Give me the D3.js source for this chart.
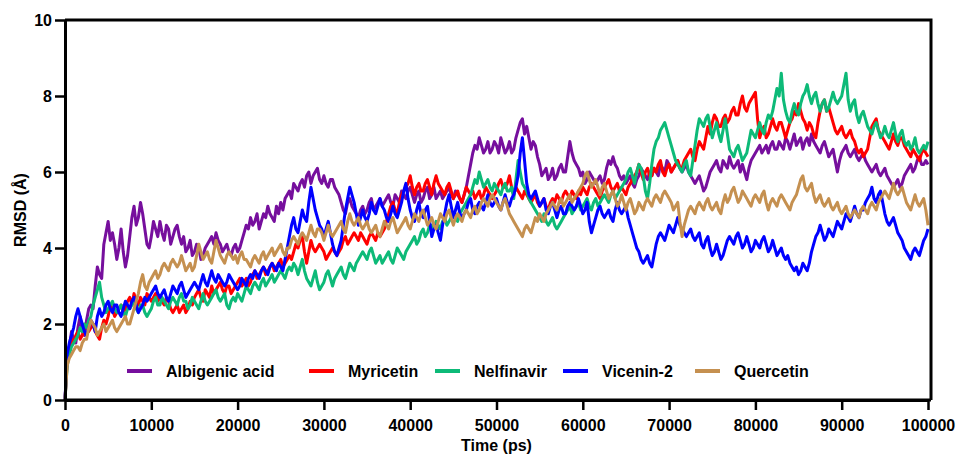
<!DOCTYPE html>
<html><head><meta charset="utf-8">
<script src="https://cdn.jsdelivr.net/npm/d3@7"></script>
<style>
body{margin:0;background:#fff}
text{font-family:Arial,"Liberation Sans",sans-serif;font-weight:bold;fill:#000}
</style>
</head><body>
<svg id="chart" width="956" height="457"></svg>
<script>
// ---------------- DATA ----------------
const timeStepPs = 250;            // sampling interval (ps)
const seriesNames = ["Albigenic acid", "Myricetin", "Nelfinavir", "Vicenin-2", "Quercetin"];
const seriesColors = ["#760F9D", "#FF0000", "#0DBA78", "#0000FF", "#C59050"];

const albigenicAcid = [
 0,1.1,1.4,1.8,1.6,1.5,1.9,2.2,1.8,1.7,2.1,2.4,2.5,2.4,3.0,3.5,3.3,3.2,4.1,4.4,
 4.7,4.2,4.4,4.1,3.7,4.0,4.5,3.9,3.5,3.8,4.3,4.8,5.1,4.6,4.8,5.2,4.9,4.5,4.1,4.0,
 4.3,4.7,4.5,4.3,4.7,4.4,4.2,4.6,4.5,4.1,4.3,4.5,4.6,4.3,4.1,4.3,3.9,4.0,4.2,3.8,
 3.9,4.1,4.0,3.7,3.8,4.0,4.1,4.2,4.3,4.1,4.4,4.2,4.1,3.9,4.0,4.1,3.9,3.8,4.0,4.1,
 3.9,4.0,4.2,4.4,4.6,4.5,4.8,4.6,4.7,4.9,4.5,4.7,4.9,4.8,5.1,4.9,4.8,4.7,5.1,4.9,
 5.2,5.0,5.3,5.4,5.5,5.3,5.7,5.6,5.5,5.7,5.8,5.6,5.9,6.0,5.7,5.9,6.0,6.1,5.8,5.7,
 5.9,5.7,5.6,5.8,5.8,5.6,5.5,5.4,5.2,5.0,4.9,5.2,5.3,5.1,5.0,4.9,4.8,5.0,5.1,4.9,
 5.0,5.2,5.3,5.0,5.1,5.2,5.3,5.1,5.2,5.3,5.4,5.2,5.1,5.4,5.3,5.2,5.5,5.4,5.3,5.5,
 5.6,5.4,5.2,5.4,5.5,5.2,5.3,5.5,5.6,5.3,5.4,5.6,5.3,5.4,5.5,5.3,5.4,5.5,5.6,5.4,
 5.3,5.5,5.4,5.3,5.2,5.4,5.6,5.9,6.2,6.5,6.7,6.6,6.9,6.7,6.5,6.6,6.8,6.5,6.6,6.8,
 6.7,6.5,6.9,6.7,6.5,6.6,6.8,6.5,6.6,6.9,7.1,7.3,7.4,7.0,7.2,6.9,6.6,6.8,6.7,6.4,
 6.2,5.9,6.0,6.1,5.8,5.9,6.1,5.8,5.9,6.1,6.2,6.0,6.0,6.4,6.8,6.5,6.3,6.2,6.1,5.9,
 6.0,5.7,5.8,6.0,5.9,5.8,5.7,5.8,5.9,5.7,5.8,6.1,6.3,6.2,6.4,6.2,6.1,5.9,5.8,5.9,
 5.7,5.8,5.9,5.7,5.6,5.8,5.9,6.1,6.0,5.9,5.8,6.0,5.9,6.1,6.0,5.9,6.2,6.1,6.0,6.3,
 6.2,6.0,6.1,6.2,6.3,6.1,6.0,6.1,6.2,6.0,5.9,5.8,5.7,5.8,5.9,5.7,5.5,5.6,5.8,6.0,
 6.1,6.2,6.3,6.1,6.0,6.3,6.2,6.1,6.4,6.2,6.1,6.2,6.3,6.0,6.2,6.0,5.8,6.1,6.3,6.4,
 6.5,6.6,6.7,6.5,6.6,6.7,6.5,6.7,6.8,6.6,6.6,6.8,6.7,6.6,6.9,6.8,6.6,6.8,7.0,6.7,
 6.8,6.9,6.6,6.8,6.9,6.7,7.0,6.8,6.7,6.6,6.5,6.7,6.8,6.6,6.4,6.5,6.6,6.3,6.0,6.3,
 6.5,6.6,6.7,6.5,6.4,6.5,6.6,6.4,6.3,6.4,6.5,6.3,6.2,6.1,6.0,6.1,6.2,6.0,5.9,6.0,
 6.1,5.9,5.8,5.7,5.6,5.7,5.8,5.6,5.7,5.9,6.0,6.1,6.2,6.0,6.1,6.3,6.4,6.2,6.2,6.3,
 6.2];

const myricetin = [
 0,1.0,1.3,1.6,1.5,1.7,1.8,1.6,1.7,1.9,2.0,1.8,1.9,2.0,1.8,1.7,1.6,1.9,2.1,2.0,
 2.2,2.5,2.4,2.2,2.3,2.4,2.5,2.3,2.4,2.6,2.7,2.5,2.8,2.6,2.5,2.7,2.6,2.5,2.8,2.7,
 2.6,2.7,2.8,2.6,2.7,2.6,2.5,2.7,2.6,2.4,2.3,2.4,2.5,2.3,2.4,2.5,2.3,2.4,2.6,2.5,
 2.7,2.8,2.9,2.7,2.6,2.9,2.8,2.7,3.0,2.8,2.9,3.0,3.1,2.9,2.8,3.0,3.0,2.8,2.9,3.0,
 3.1,3.2,3.0,3.1,3.2,3.0,3.1,3.3,3.4,3.2,3.3,3.4,3.5,3.3,3.4,3.5,3.6,3.4,3.5,3.6,
 3.7,3.5,3.6,3.7,3.8,3.7,3.9,4.1,4.0,4.2,4.3,3.9,3.6,3.9,4.2,4.0,3.9,4.0,4.1,4.0,
 3.9,3.7,3.8,3.9,4.0,3.9,3.8,3.9,4.0,4.2,4.3,4.1,4.2,4.3,4.4,4.3,4.2,4.4,4.3,4.2,
 4.1,4.3,4.4,4.3,4.2,4.4,4.3,4.4,4.5,4.7,4.9,5.1,5.2,5.0,4.9,5.2,5.4,5.5,5.6,5.7,
 5.9,5.6,5.4,5.6,5.7,5.5,5.5,5.7,5.8,5.6,5.4,5.7,5.9,5.7,5.6,5.5,5.4,5.6,5.7,5.5,
 5.3,5.4,5.5,5.3,5.2,5.4,5.6,5.5,5.4,5.5,5.3,5.4,5.5,5.3,5.4,5.6,5.5,5.4,5.3,5.4,
 5.5,5.7,5.8,5.6,5.6,5.7,5.9,5.6,5.4,5.6,5.5,5.4,5.3,5.5,5.4,5.3,5.2,5.3,5.4,5.2,
 5.1,5.2,5.3,5.1,5.0,5.2,5.3,5.2,5.4,5.3,5.2,5.4,5.5,5.4,5.3,5.5,5.4,5.3,5.5,5.4,
 5.6,5.5,5.4,5.6,5.7,5.6,5.5,5.4,5.3,5.5,5.6,5.7,5.8,5.6,5.5,5.6,5.7,5.5,5.6,5.5,
 5.4,5.6,5.7,5.8,5.9,6.0,6.2,6.0,5.8,6.0,6.1,5.9,5.9,6.1,6.0,6.2,6.3,6.0,5.9,6.1,
 6.2,6.0,6.1,6.2,6.3,6.1,6.1,6.3,6.4,6.5,6.6,6.4,6.3,6.6,6.8,6.7,6.6,6.9,7.2,7.0,
 7.3,7.5,7.4,7.2,7.2,7.4,7.5,7.3,7.4,7.6,7.7,7.5,7.5,7.8,8.0,7.7,7.6,7.8,7.9,8.0,
 8.1,7.4,6.9,7.1,7.2,6.9,7.0,7.2,7.4,7.2,7.1,7.3,7.3,7.1,6.9,7.1,7.3,7.4,7.6,7.5,
 7.8,7.6,7.4,7.3,7.1,7.3,7.2,7.0,6.9,7.3,7.6,7.8,7.9,7.6,7.7,7.5,7.3,7.1,7.0,7.1,
 7.2,7.0,6.9,7.0,7.1,6.9,6.8,6.6,6.5,6.6,6.4,6.5,6.6,6.9,7.2,7.3,7.4,7.1,7.0,6.9,
 6.8,6.7,6.6,6.8,7.0,6.8,6.7,6.9,6.9,6.7,6.6,6.5,6.4,6.6,6.5,6.4,6.3,6.5,6.6,6.5,
 6.4];

const nelfinavir = [
 0,0.9,1.2,1.4,1.5,1.6,1.7,1.9,1.8,2.0,1.9,2.1,2.2,2.5,2.7,2.9,3.1,2.7,2.5,2.3,
 2.4,2.5,2.6,2.4,2.3,2.4,2.5,2.3,2.2,2.4,2.4,2.5,2.6,2.4,2.3,2.5,2.5,2.3,2.2,2.3,
 2.4,2.6,2.7,2.5,2.5,2.7,2.6,2.5,2.4,2.6,2.7,2.6,2.5,2.7,2.8,2.6,2.6,2.4,2.5,2.7,
 2.6,2.5,2.4,2.6,2.8,2.6,2.5,2.6,2.7,2.8,2.9,2.7,2.6,2.7,2.8,2.5,2.4,2.6,2.7,2.6,
 2.8,2.7,2.6,2.8,3.0,2.9,2.8,3.0,3.1,3.0,2.9,3.1,3.2,3.0,3.1,3.2,3.3,3.1,3.2,3.3,
 3.4,3.3,3.2,3.4,3.5,3.4,3.6,3.5,3.3,3.5,3.7,3.4,3.2,3.1,3.0,3.2,3.4,3.1,2.9,3.0,
 3.1,3.3,3.4,3.2,3.0,3.2,3.3,3.4,3.5,3.3,3.2,3.4,3.6,3.5,3.4,3.6,3.7,3.8,3.9,3.8,
 3.7,3.9,4.0,3.8,3.6,3.7,3.8,3.6,3.7,3.8,3.9,3.7,3.6,3.8,4.0,3.9,3.8,3.7,3.9,4.0,
 4.1,4.2,4.3,4.1,4.2,4.4,4.5,4.3,4.4,4.6,4.6,4.5,4.7,4.6,4.5,4.7,4.8,4.6,4.7,4.8,
 4.9,4.8,4.7,4.9,5.0,5.1,5.2,5.3,5.4,5.6,5.8,5.7,6.0,5.8,5.6,5.7,5.8,5.6,5.5,5.7,
 5.6,5.5,5.4,5.6,5.7,5.5,5.5,5.6,5.3,5.8,6.3,6.0,5.7,5.6,5.5,5.3,5.2,5.1,5.0,4.9,
 4.8,4.7,4.9,4.7,4.6,4.7,4.8,4.6,4.5,4.6,4.7,4.8,4.9,5.0,5.1,4.9,5.0,5.1,5.2,5.0,
 5.1,5.2,5.3,5.1,5.0,5.2,5.3,5.1,5.2,5.3,5.4,5.3,5.2,5.4,5.5,5.3,5.4,5.5,5.6,5.7,
 5.8,6.0,6.1,5.9,5.7,6.0,6.2,6.1,5.9,5.5,5.3,5.7,6.2,6.6,6.8,6.9,7.1,7.2,7.3,7.1,
 6.9,6.7,6.5,6.3,6.2,6.1,6.0,6.2,6.3,6.0,5.9,6.3,6.7,7.1,7.4,7.3,7.2,7.4,7.5,7.2,
 6.9,7.1,7.3,7.0,6.8,7.1,7.4,7.0,6.6,6.5,6.4,6.6,6.7,6.5,6.3,6.4,6.5,6.8,7.1,7.0,
 6.9,7.1,7.3,7.1,7.0,7.3,7.5,7.4,7.6,7.9,8.2,8.0,8.6,7.9,7.6,7.4,7.3,7.6,7.8,7.6,
 7.5,7.8,8.0,8.1,8.3,8.0,7.8,8.0,8.1,7.8,7.6,7.8,7.9,7.6,7.7,7.9,8.1,7.9,7.8,7.9,
 8.0,8.3,8.6,7.9,7.6,7.8,7.9,7.5,7.3,7.5,7.6,7.4,7.2,7.1,7.0,7.2,7.3,7.1,6.9,7.0,
 7.2,7.0,6.9,7.1,7.3,7.0,6.8,7.0,7.1,6.8,6.7,6.8,6.6,6.7,6.9,6.6,6.5,6.6,6.7,6.6,
 6.8];

const vicenin2 = [
 0,1.2,1.5,1.7,1.9,2.2,2.4,2.2,2.0,1.8,1.7,1.9,2.1,2.0,1.8,2.2,2.4,2.2,2.3,2.5,
 2.6,2.4,2.3,2.5,2.5,2.3,2.2,2.4,2.6,2.5,2.4,2.6,2.7,2.5,2.3,2.4,2.5,2.7,2.6,2.7,
 2.8,2.9,3.0,2.8,2.7,2.8,2.9,2.7,2.6,2.8,3.0,2.9,2.8,3.0,3.1,2.9,2.7,2.8,2.9,3.0,
 3.1,3.0,2.9,3.1,3.3,3.1,3.0,3.2,3.4,3.2,3.1,3.3,3.2,3.1,3.0,3.1,3.3,3.2,3.1,3.0,
 2.9,3.0,3.2,3.1,3.0,3.2,3.3,3.2,3.4,3.3,3.2,3.4,3.5,3.4,3.3,3.5,3.6,3.5,3.4,3.6,
 3.5,3.4,3.7,4.0,4.3,4.6,4.8,4.5,4.4,4.7,5.0,4.8,4.7,5.2,5.6,5.3,5.0,4.8,4.6,4.5,
 4.3,4.5,4.7,4.4,4.1,3.9,3.8,4.0,4.2,4.6,5.0,5.3,5.6,5.4,5.2,4.9,4.6,4.8,5.0,4.8,
 4.7,4.9,5.2,5.0,4.9,5.1,5.3,5.1,5.0,4.8,4.7,4.9,5.1,4.9,4.8,5.0,5.2,5.5,5.7,5.3,
 5.0,4.8,4.7,5.0,5.2,4.9,4.8,5.0,5.1,4.7,4.3,4.5,4.6,4.4,4.2,4.6,4.9,5.2,5.4,5.1,
 4.8,5.0,5.2,4.9,4.8,4.9,5.0,5.2,5.3,5.0,4.9,5.1,5.2,5.1,5.0,5.2,5.4,5.2,5.1,5.2,
 5.3,5.1,5.0,5.2,5.4,5.2,5.1,5.3,5.4,5.6,5.9,6.5,6.9,6.3,5.7,5.4,5.3,5.4,5.5,5.3,
 5.1,5.2,5.3,5.0,4.9,5.1,5.2,5.0,4.8,5.0,5.1,4.9,4.9,5.1,5.2,5.1,5.0,5.1,5.3,5.1,
 4.9,5.0,5.2,4.7,4.4,4.6,4.8,5.0,5.1,4.9,4.8,4.9,5.0,4.8,4.7,5.0,5.2,5.0,4.9,5.0,
 5.1,4.8,4.6,4.4,4.2,4.0,3.9,3.7,3.6,3.7,3.8,3.6,3.5,3.8,4.1,4.3,4.4,4.3,4.2,4.4,
 4.6,4.5,4.4,4.6,4.8,4.6,4.5,4.4,4.3,4.4,4.5,4.3,4.2,4.3,4.4,4.1,4.0,4.2,4.3,4.0,
 3.8,3.9,4.1,3.9,3.7,3.8,4.0,4.2,4.3,4.2,4.1,4.3,4.4,4.2,4.0,4.1,4.3,4.1,3.9,4.0,
 4.2,4.1,4.0,4.2,4.3,4.1,3.9,4.0,4.2,4.0,3.8,3.9,4.0,3.8,3.7,3.8,3.6,3.5,3.4,3.5,
 3.3,3.4,3.6,3.5,3.4,3.6,3.9,4.1,4.3,4.4,4.6,4.4,4.2,4.3,4.5,4.4,4.3,4.5,4.7,4.6,
 4.5,4.7,4.9,4.8,4.7,4.9,5.1,4.9,4.8,5.0,5.0,5.2,5.3,5.4,5.6,5.3,5.2,5.4,5.5,5.2,
 4.9,4.7,4.6,4.7,4.8,4.6,4.4,4.3,4.2,4.0,3.9,3.8,3.7,3.9,4.0,3.9,3.8,4.0,4.2,4.3,
 4.5];

const quercetin = [
 0,0.9,1.1,1.2,1.3,1.4,1.4,1.3,1.5,1.6,1.6,1.9,2.1,2.0,1.9,1.7,1.8,1.9,2.0,1.8,
 1.9,2.0,2.1,1.9,1.8,1.9,2.0,2.1,2.2,2.0,2.0,2.2,2.4,2.6,2.8,3.1,3.3,3.0,2.9,3.1,
 3.2,3.3,3.4,3.2,3.3,3.5,3.6,3.5,3.4,3.6,3.7,3.6,3.5,3.6,3.8,3.6,3.4,3.5,3.6,3.4,
 3.5,3.8,4.1,3.9,3.7,3.8,3.9,3.7,3.6,3.9,4.2,4.0,3.8,3.7,3.6,3.8,3.9,3.8,3.7,3.8,
 3.6,3.8,3.9,3.7,3.7,3.6,3.5,3.7,3.8,3.7,3.6,3.8,3.9,3.7,3.8,3.9,4.0,3.8,3.9,4.0,
 4.1,3.9,3.8,4.0,4.0,4.2,4.3,4.2,4.1,4.3,4.4,4.3,4.2,4.4,4.6,4.4,4.3,4.5,4.5,4.4,
 4.2,4.4,4.6,4.4,4.3,4.4,4.5,4.6,4.7,4.5,4.4,4.7,4.9,4.7,4.6,4.7,4.8,4.6,4.5,4.6,
 4.7,4.5,4.4,4.5,4.6,4.4,4.3,4.5,4.7,4.6,4.5,4.7,4.8,4.6,4.4,4.5,4.6,4.7,4.8,4.6,
 4.5,4.7,4.9,4.8,4.7,4.9,5.0,4.8,4.6,4.7,4.8,4.6,4.5,4.7,4.9,4.8,4.7,4.9,5.0,4.8,
 4.6,4.8,4.9,4.8,4.7,4.9,5.0,4.9,4.8,5.0,5.1,4.9,5.0,5.2,5.3,5.2,5.1,5.3,5.4,5.3,
 5.2,5.1,5.0,5.2,5.3,5.1,4.9,4.8,4.7,4.6,4.5,4.4,4.3,4.5,4.6,4.5,4.4,4.6,4.8,4.7,
 4.9,4.8,4.7,4.9,5.0,5.1,5.2,5.1,5.0,5.2,5.3,5.1,5.2,5.3,5.4,5.2,5.3,5.4,5.5,5.6,
 5.7,5.9,6.0,5.8,5.6,5.7,5.8,5.6,5.4,5.6,5.7,5.5,5.3,5.4,5.5,5.3,5.1,5.2,5.4,5.2,
 5.0,5.2,5.3,5.1,4.9,5.0,5.2,5.1,5.0,5.2,5.3,5.2,5.1,5.3,5.4,5.3,5.2,5.4,5.5,5.4,
 5.3,5.2,5.0,5.1,5.2,4.7,4.3,4.6,4.8,5.0,5.1,5.0,4.9,5.1,5.2,5.1,5.0,5.2,5.3,5.1,
 5.0,5.1,5.2,5.0,4.9,5.2,5.4,5.2,5.3,5.5,5.6,5.4,5.2,5.3,5.5,5.4,5.3,5.2,5.1,5.3,
 5.4,5.3,5.2,5.4,5.5,5.2,5.0,5.2,5.3,5.2,5.1,5.3,5.4,5.3,5.2,5.1,5.0,5.2,5.3,5.4,
 5.6,5.8,5.9,5.6,5.5,5.6,5.7,5.4,5.2,5.3,5.4,5.2,5.1,5.2,5.3,5.1,5.0,5.1,5.2,5.0,
 4.9,5.0,5.1,4.9,4.8,4.9,5.0,4.9,4.8,5.0,5.1,5.0,4.9,5.1,5.2,5.1,5.0,5.2,5.3,5.4,
 5.5,5.4,5.3,5.5,5.7,5.5,5.4,5.5,5.6,5.4,5.2,5.1,5.0,5.2,5.4,5.2,5.1,5.2,5.3,5.0,
 4.6];

const xTickValues = [0,10000,20000,30000,40000,50000,60000,70000,80000,90000,100000];
const yTickValues = [0,2,4,6,8,10];
const xTitle = "Time (ps)";
const yTitle = "RMSD (Å)";

// ---------------- LAYOUT ----------------
const L = 65, R = 928, T = 20, B = 400;
const legendY = 371;
const legendSwatchX = [127, 309, 435, 563, 695];

const svg = d3.select("#chart");
const x = d3.scaleLinear().domain([0, 100000]).range([L, R]);
const y = d3.scaleLinear().domain([0, 10]).range([B, T]);

const allSeries = [albigenicAcid, myricetin, nelfinavir, vicenin2, quercetin];

const line = d3.line()
  .x((d, i) => x(i * timeStepPs))
  .y(d => y(d));

const plot = svg.append("g");
allSeries.forEach((vals, k) => {
  plot.append("path")
    .datum(vals)
    .attr("d", line)
    .attr("fill", "none")
    .attr("stroke", seriesColors[k])
    .attr("stroke-width", 3)
    .attr("stroke-linejoin", "round");
});

// frame (top & right)
svg.append("path")
  .attr("d", `M${L},${T}H${R + 3}V${B}`)
  .attr("fill", "none").attr("stroke", "#000").attr("stroke-width", 3);

const xAxis = svg.append("g").attr("transform", `translate(0,${B})`)
  .call(d3.axisBottom(x).tickValues(xTickValues).tickFormat(d3.format("d"))
    .tickSize(10).tickSizeOuter(0).tickPadding(10));
const yAxis = svg.append("g").attr("transform", `translate(${L},0)`)
  .call(d3.axisLeft(y).tickValues(yTickValues).tickFormat(d3.format("d"))
    .tickSize(10).tickSizeOuter(0).tickPadding(3));

[xAxis, yAxis].forEach(g => {
  g.select(".domain").attr("stroke-width", 3).attr("stroke", "#000");
  g.selectAll(".tick line").attr("stroke-width", 2.5).attr("stroke", "#000");
  g.selectAll(".tick text").style("font-size", "16px").style("font-weight", "bold")
    .style("font-family", "Arial, 'Liberation Sans', sans-serif").attr("fill", "#000");
});
svg.append("line").attr("x1", L).attr("x2", R + 3).attr("y1", B).attr("y2", B)
  .attr("stroke", "#000").attr("stroke-width", 3);

svg.append("text").attr("x", (L + R) / 2).attr("y", 451)
  .attr("text-anchor", "middle").style("font-size", "16px").text(xTitle);
svg.append("text").attr("transform", `translate(26,${(T + B) / 2}) rotate(-90)`)
  .attr("text-anchor", "middle").style("font-size", "16px").text(yTitle);

// legend
const legend = svg.append("g");
seriesNames.forEach((name, k) => {
  const sx = legendSwatchX[k];
  legend.append("line").attr("x1", sx).attr("x2", sx + 25)
    .attr("y1", legendY).attr("y2", legendY)
    .attr("stroke", seriesColors[k]).attr("stroke-width", 4);
  legend.append("text").attr("x", sx + 39).attr("y", legendY + 5.5)
    .style("font-size", "16px").text(name);
});
</script>
</body></html>
